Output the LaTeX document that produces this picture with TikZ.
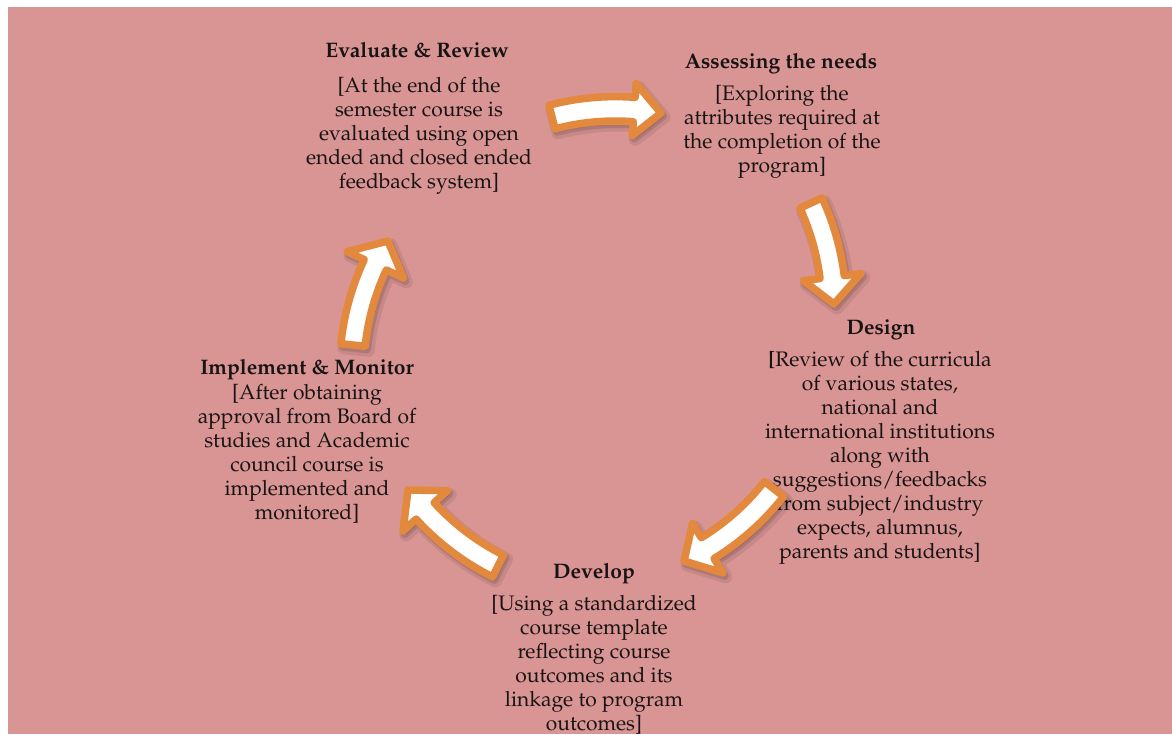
\documentclass[tikz,border=0pt]{standalone}
\usepackage[T1]{fontenc}
\usepackage{mathpazo}
\definecolor{bgpink}{RGB}{217,149,148}
\definecolor{arrorange}{RGB}{226,137,62}
\definecolor{txt}{RGB}{25,20,20}
\tikzset{
  titletext/.style={font=\fontsize{21}{24}\selectfont\bfseries, inner sep=0pt, text=txt},
  bodytext/.style={font=\fontsize{21}{24}\selectfont, align=center, inner sep=0pt, text=txt},
  arrowbody/.style={fill=white, draw=arrorange, line width=7.5pt, line join=round},
  arrowshadowA/.style={fill=black, draw=black, opacity=0.08, line width=13pt, line join=round},
  arrowshadowB/.style={fill=black, draw=black, opacity=0.12, line width=8pt, line join=round},
}
\def\CARad{250}
\def\CASW{12.2}
\def\CAHL{27}
% curved block arrow: tail (#1,#2) -> tip (#3,#4), head half width #5, screen coordinates
\newcommand\cycarrow[5]{%
  \pgfmathsetmacro\CAdx{#3-#1}%
  \pgfmathsetmacro\CAdy{#4-#2}%
  \pgfmathsetmacro\CAc{veclen(\CAdx,\CAdy)}%
  \pgfmathsetmacro\CAux{\CAdx/\CAc}%
  \pgfmathsetmacro\CAuy{\CAdy/\CAc}%
  \pgfmathsetmacro\CAd{\CARad*sqrt(1-(\CAc/(2*\CARad))^2)}%
  \pgfmathsetmacro\CAcx{(#1+#3)/2-\CAd*\CAuy}%
  \pgfmathsetmacro\CAcy{(#2+#4)/2+\CAd*\CAux}%
  \pgfmathsetmacro\CAa{atan2(#2-\CAcy,#1-\CAcx)}%
  \pgfmathsetmacro\CAt{atan2(#4-\CAcy,#3-\CAcx)}%
  \pgfmathsetmacro\CAt{ifthenelse(\CAt<\CAa,\CAt+360,\CAt)}%
  \pgfmathsetmacro\CAb{\CAt-\CAHL/\CARad*180/pi}%
  \foreach \CAsty/\CAsh in {arrowshadowA/{(3,4)},arrowshadowB/{(2,3)},arrowbody/{(0,0)}}{%
    \path[\CAsty, shift=\CAsh]
      plot[domain=\CAa:\CAb, samples=30] ({\CAcx+(\CARad+\CASW)*cos(\x)},{\CAcy+(\CARad+\CASW)*sin(\x)})
      -- ({\CAcx+(\CARad+#5)*cos(\CAb)},{\CAcy+(\CARad+#5)*sin(\CAb)})
      -- (#3,#4)
      -- ({\CAcx+(\CARad-#5)*cos(\CAb)},{\CAcy+(\CARad-#5)*sin(\CAb)})
      -- plot[domain=\CAb:\CAa, samples=30] ({\CAcx+(\CARad-\CASW)*cos(\x)},{\CAcy+(\CARad-\CASW)*sin(\x)})
      -- cycle;
  }%
}
\begin{document}
\begin{tikzpicture}[x=1pt, y=-1pt]
\useasboundingbox (0,0) rectangle (1172,734);
\fill[bgpink] (8,7) rectangle (1172,734);

% Evaluate & Review
\node[titletext] (evalT) at (417,50) {Evaluate \& Review};
\node[bodytext] (evalB) at (419,136) {[At the end of the\\semester course is\\evaluated using open\\ended and closed ended\\feedback system]};

% Assessing the needs
\node[titletext] (assessT) at (781,64) {Assessing the needs};
\node[bodytext] (assessB) at (782,132) {[Exploring the\\attributes required at\\the completion of the\\program]};

% Design
\node[titletext] (designT) at (881,330) {Design};
\node[bodytext] (designB) at (880,458) {\textbf{[}Review of the curricula\\of various states,\\national and\\international institutions\\along with\\suggestions/feedbacks\\from subject/industry\\expects, alumnus,\\parents and students]};

% Develop
\node[titletext] (developT) at (594,574) {Develop};
\node[bodytext] (developB) at (594,665) {[Using a standardized\\course template\\reflecting course\\outcomes and its\\linkage to program\\outcomes]};

% Implement & Monitor
\node[titletext] (implT) at (307,370) {Implement \& Monitor};
\node[bodytext] (implB) at (307,454) {[After obtaining\\approval from Board of\\studies and Academic\\council course is\\implemented and\\monitored]};

% cycle arrows
\cycarrow{552}{117}{661}{113}{26}
\cycarrow{811}{203}{834}{304}{29}
\cycarrow{774}{489}{684}{561}{29}
\cycarrow{498}{566}{408}{490}{30}
\cycarrow{353}{345}{388}{241}{31}
\end{tikzpicture}
\end{document}
